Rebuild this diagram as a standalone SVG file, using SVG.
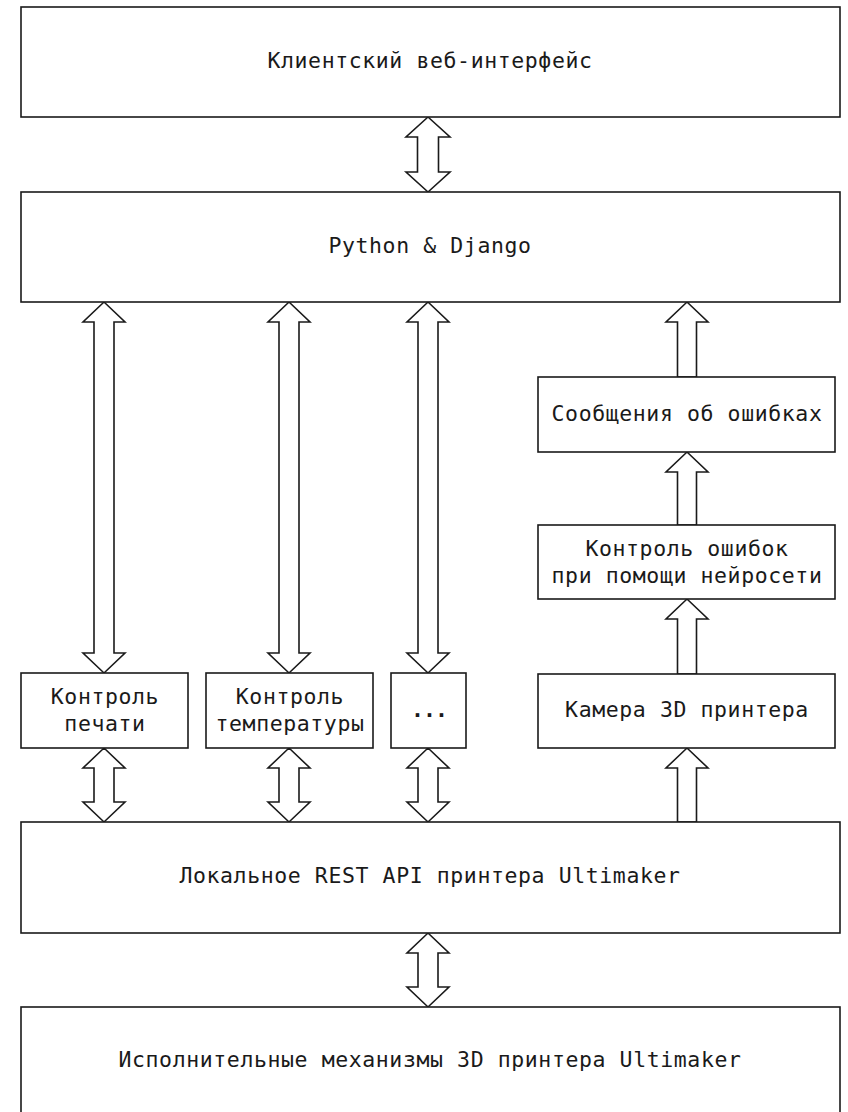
<svg xmlns="http://www.w3.org/2000/svg" width="848" height="1112" viewBox="0 0 848 1112">
<style>
.box{fill:#fff;stroke:#1a1a1a;stroke-width:1.6}
.arr{fill:#fff;stroke:#1a1a1a;stroke-width:1.6;stroke-linejoin:miter}
text{font-family:"DejaVu Sans Mono","Liberation Mono",monospace;font-size:21.5px;letter-spacing:0.6px;fill:#1a1a1a;text-anchor:middle}
</style>
<rect width="848" height="1112" fill="#fff"/>
<g id="connectors">
<polygon class="arr" points="428,117 450,137 438.5,137 438.5,172 450,172 428,192 406,172 417.5,172 417.5,137 406,137"/>
<polygon class="arr" points="104,302 125,322 114,322 114,653 125,653 104,673 83,653 94,653 94,322 83,322"/>
<polygon class="arr" points="289,302 310,322 299,322 299,653 310,653 289,673 268,653 279,653 279,322 268,322"/>
<polygon class="arr" points="428,302 449,322 438,322 438,653 449,653 428,673 407,653 418,653 418,322 407,322"/>
<polygon class="arr" points="104,748 125,768 114,768 114,802 125,802 104,822 83,802 94,802 94,768 83,768"/>
<polygon class="arr" points="289,748 310,768 299,768 299,802 310,802 289,822 268,802 279,802 279,768 268,768"/>
<polygon class="arr" points="428,748 449,768 438,768 438,802 449,802 428,822 407,802 418,802 418,768 407,768"/>
<polygon class="arr" points="428,933 449,953 438,953 438,987 449,987 428,1007 407,987 418,987 418,953 407,953"/>
<polygon class="arr" points="687,302 708,322 696.5,322 696.5,377 677.5,377 677.5,322 666,322"/>
<polygon class="arr" points="687,452 708,472 696.5,472 696.5,525 677.5,525 677.5,472 666,472"/>
<polygon class="arr" points="687,599 708,619 696.5,619 696.5,674 677.5,674 677.5,619 666,619"/>
<polygon class="arr" points="687,748 708,768 696.5,768 696.5,822 677.5,822 677.5,768 666,768"/>
</g>
<g id="client">
<rect class="box" x="21" y="7" width="819" height="110"/>
<text x="430" y="68">Клиентский веб-интерфейс</text>
</g>
<g id="django">
<rect class="box" x="21" y="192" width="819" height="110"/>
<text x="430" y="253">Python &amp; Django</text>
</g>
<g id="errors-msg">
<rect class="box" x="538" y="377" width="297" height="75"/>
<text x="687" y="421">Сообщения об ошибках</text>
</g>
<g id="nn-control">
<rect class="box" x="538" y="525" width="297" height="74"/>
<text x="687" y="556">Контроль ошибок</text>
<text x="687" y="583">при помощи нейросети</text>
</g>
<g id="camera">
<rect class="box" x="538" y="674" width="297" height="74"/>
<text x="687" y="717">Камера 3D принтера</text>
</g>
<g id="print-control">
<rect class="box" x="21" y="673" width="167" height="75"/>
<text x="105" y="704">Контроль</text>
<text x="105" y="731">печати</text>
</g>
<g id="temp-control">
<rect class="box" x="206" y="673" width="167" height="75"/>
<text x="290" y="704">Контроль</text>
<text x="290" y="731">температуры</text>
</g>
<g id="more">
<rect class="box" x="391" y="673" width="75" height="75"/>
<text x="429" y="717" style="letter-spacing:-1px;font-weight:bold">...</text>
</g>
<g id="rest-api">
<rect class="box" x="21" y="822" width="819" height="111"/>
<text x="430" y="883">Локальное REST API принтера Ultimaker</text>
</g>
<g id="actuators">
<rect class="box" x="21" y="1007" width="819" height="120"/>
<text x="430" y="1067">Исполнительные механизмы 3D принтера Ultimaker</text>
</g>
</svg>
